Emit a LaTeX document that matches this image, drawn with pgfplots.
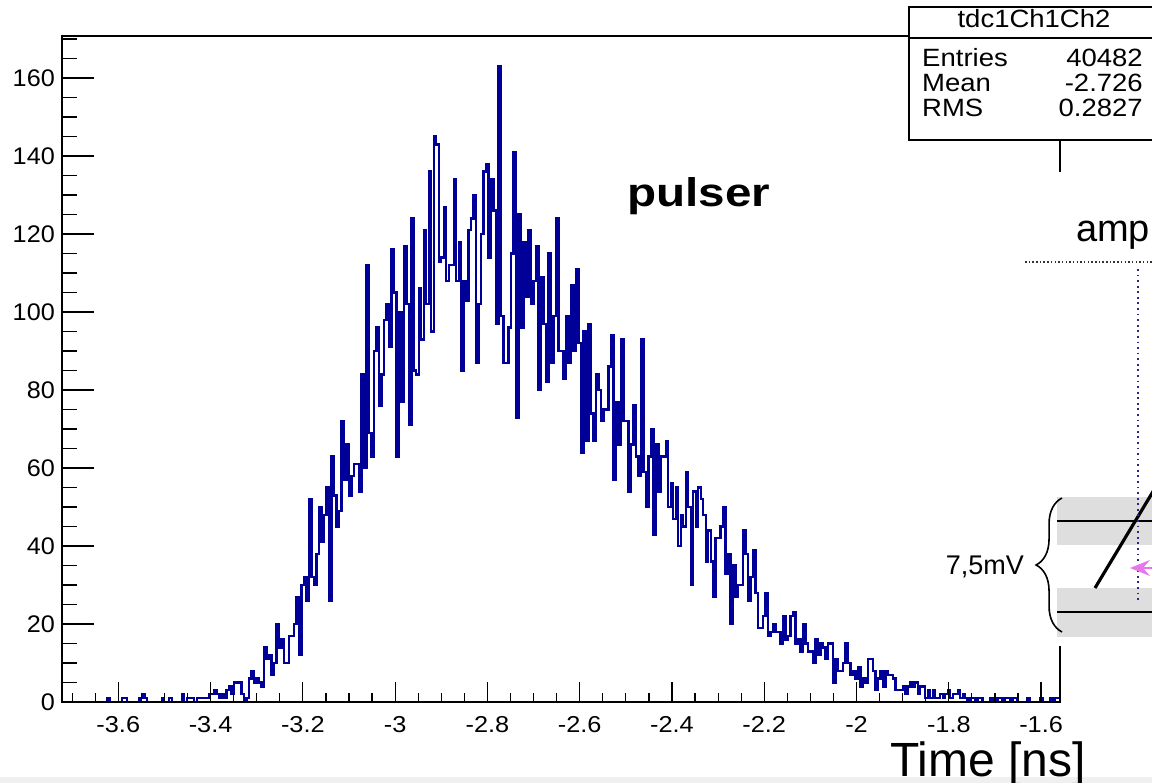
\documentclass[border=0pt]{standalone}
\usepackage{fontspec}
\setmainfont{Liberation Sans}
\usepackage{pgfplots}
\usepackage{pgfplotstable}
\pgfplotsset{compat=1.18}
\usetikzlibrary{decorations.pathreplacing,arrows.meta}
\definecolor{histblue}{RGB}{0,0,153}
\definecolor{bandgray}{RGB}{222,222,222}
\definecolor{dotblue}{RGB}{40,40,130}
\definecolor{arrowviolet}{RGB}{230,120,235}

% 400 bins from -3.722 to -1.559 (bin width 0.0054075); last row closes the final bin
\pgfplotstableread[row sep=\\]{
y\\
0\\0\\0\\0\\0\\0\\0\\0\\0\\0\\
0\\0\\0\\0\\0\\0\\0\\0\\1\\0\\
0\\0\\0\\0\\1\\1\\0\\0\\0\\0\\
0\\1\\2\\1\\0\\0\\0\\0\\0\\0\\
1\\0\\0\\1\\0\\0\\0\\0\\2\\0\\
1\\1\\1\\0\\1\\1\\1\\1\\1\\2\\
2\\3\\2\\1\\2\\1\\3\\4\\2\\5\\
5\\5\\2\\0\\1\\6\\8\\5\\6\\5\\
4\\14\\11\\12\\7\\10\\20\\14\\16\\10\\
10\\17\\17\\20\\27\\12\\30\\32\\26\\52\\
32\\30\\38\\50\\41\\48\\55\\26\\63\\53\\
45\\49\\72\\57\\66\\53\\58\\61\\61\\54\\
84\\60\\112\\69\\63\\90\\96\\76\\84\\98\\
102\\91\\116\\105\\63\\100\\77\\117\\102\\71\\
124\\85\\84\\106\\93\\121\\102\\136\\95\\145\\
143\\113\\114\\127\\108\\112\\112\\134\\108\\118\\
85\\108\\103\\121\\124\\130\\87\\102\\120\\136\\
138\\114\\134\\126\\97\\163\\99\\87\\87\\96\\
115\\141\\73\\125\\96\\118\\104\\121\\102\\108\\
117\\80\\109\\97\\82\\115\\87\\99\\124\\90\\
90\\83\\99\\87\\107\\90\\111\\92\\64\\95\\
67\\97\\74\\67\\84\\80\\72\\75\\75\\86\\
94\\57\\77\\66\\93\\72\\72\\54\\66\\76\\
63\\58\\93\\59\\50\\63\\70\\43\\66\\54\\
63\\63\\67\\50\\56\\47\\55\\40\\48\\45\\
59\\50\\30\\54\\45\\55\\52\\48\\36\\44\\
36\\27\\42\\42\\45\\50\\33\\38\\20\\35\\
27\\30\\30\\44\\38\\26\\32\\39\\28\\19\\
19\\22\\28\\17\\18\\20\\18\\18\\15\\22\\
16\\17\\22\\23\\15\\16\\13\\20\\15\\13\\
13\\10\\16\\12\\15\\14\\11\\15\\15\\5\\
11\\8\\8\\10\\15\\10\\7\\8\\6\\9\\
4\\6\\5\\11\\11\\8\\3\\6\\8\\4\\
8\\7\\7\\6\\3\\3\\3\\4\\2\\4\\
5\\4\\5\\2\\4\\4\\1\\3\\1\\3\\
1\\1\\2\\1\\2\\3\\1\\2\\2\\3\\
1\\2\\1\\0\\1\\1\\0\\1\\1\\0\\
0\\0\\1\\0\\0\\1\\1\\0\\1\\1\\
0\\1\\1\\0\\0\\0\\0\\1\\0\\0\\
0\\0\\1\\0\\0\\0\\1\\0\\1\\1\\
1\\
}\histdata

\begin{document}
\begin{tikzpicture}[x=1bp,y=1bp]
\useasboundingbox (0,0) rectangle (1152,783);
\clip (0,0) rectangle (1152,783);
\fill[white] (0,0) rectangle (1152,783);
\fill[gray!12] (0,0) rectangle (1152,6);

% axis with the y ticks (longer ticks)
\begin{axis}[
  at={(62bp,81bp)}, anchor=south west, scale only axis,
  width=998bp, height=666bp,
  xmin=-3.722, xmax=-1.559, ymin=0, ymax=170.8,
  xtick=\empty,
  ytick={0,20,40,60,80,100,120,140,160},
  minor ytick={0,5,...,170},
  ytick pos=left, tick align=inside,
  major tick length=32bp, minor tick length=15bp,
  axis line style={line width=1.2bp, black},
  tick style={line width=1.2bp, black},
  yticklabel style={font=\fontsize{24bp}{28bp}\selectfont, anchor=east, inner sep=0pt, xshift=-7bp, xscale=1.05},
  /pgf/number format/assume math mode=true,
]
\end{axis}

% axis with the x ticks and the histogram
\begin{axis}[
  at={(62bp,81bp)}, anchor=south west, scale only axis,
  width=998bp, height=666bp,
  xmin=-3.722, xmax=-1.559, ymin=0, ymax=170.8,
  ytick=\empty,
  xtick={-3.6,-3.4,-3.2,-3,-2.8,-2.6,-2.4,-2.2,-2,-1.8,-1.6},
  minor xtick={-3.7,-3.65,...,-1.55},
  xtick pos=bottom, tick align=inside,
  major tick length=20bp, minor tick length=9bp,
  axis line style={line width=1.2bp, black},
  tick style={line width=1.2bp, black},
  axis on top, clip=false,
  xticklabel style={font=\fontsize{23bp}{27bp}\selectfont, anchor=north, inner sep=0pt, yshift=-14bp, xscale=1.1},
  /pgf/number format/.cd, fixed, precision=1, assume math mode=true,
]
\addplot[const plot, histblue, line width=2.4bp] table[x expr=-3.722+\coordindex*0.0054075, y=y] {\histdata};
\end{axis}

% pasted diagram (covers part of the frame)
\fill[white] (930,137) rectangle (1152,611);
\fill[bandgray] (1057,238) rectangle (1152,286);
\fill[bandgray] (1057,146) rectangle (1152,195);
\draw[line width=2] (1057,262) -- (1152,262);
\draw[line width=2] (1057,171) -- (1152,171);
\draw[line width=3.2] (1095,195) -- (1175,328);
\draw[dotblue, line width=2.2, dash pattern=on 1.8 off 3.8] (1138,514) -- (1138,183);
\draw[black!80, line width=1.8, dash pattern=on 1.5 off 2.2] (1025,521) -- (1152,521);
\draw[arrowviolet, line width=1.6, -{Stealth[length=20, width=16, inset=7]}] (1170,215) -- (1130,215);
\draw[decorate, decoration={brace, amplitude=26}, line width=1.6] (1062,151) -- (1062,285);
\node[anchor=base east, inner sep=0, font=\fontsize{27bp}{30bp}\selectfont] at (1024,208) {7,5mV};
\node[anchor=base west, inner sep=0, font=\fontsize{38bp}{42bp}\selectfont] at (1076,541) {amplitude};

% stats box
\draw[fill=white, line width=1.2] (909,643) rectangle (1164,776);
\draw[line width=1.2] (909,745) -- (1164,745);
\begin{scope}[font=\fontsize{25bp}{28bp}\selectfont]
\node[anchor=base, inner sep=0, xscale=1.1] at (1034,755) {tdc1Ch1Ch2};
\node[anchor=base west, inner sep=0, xscale=1.1] at (922,716) {Entries};
\node[anchor=base west, inner sep=0, xscale=1.1] at (922,691) {Mean};
\node[anchor=base west, inner sep=0, xscale=1.1] at (922,666) {RMS};
\node[anchor=base east, inner sep=0, xscale=1.1] at (1143,716) {40482};
\node[anchor=base east, inner sep=0, xscale=1.1] at (1143,691) {-2.726};
\node[anchor=base east, inner sep=0, xscale=1.1] at (1143,666) {0.2827};
\end{scope}

\node[anchor=base west, inner sep=0, font=\fontsize{40bp}{44bp}\selectfont\bfseries, xscale=1.19] at (627,576) {pulser};
\node[anchor=base west, inner sep=0, font=\fontsize{48bp}{52bp}\selectfont] at (890,6) {Time [ns]};
\end{tikzpicture}
\end{document}
